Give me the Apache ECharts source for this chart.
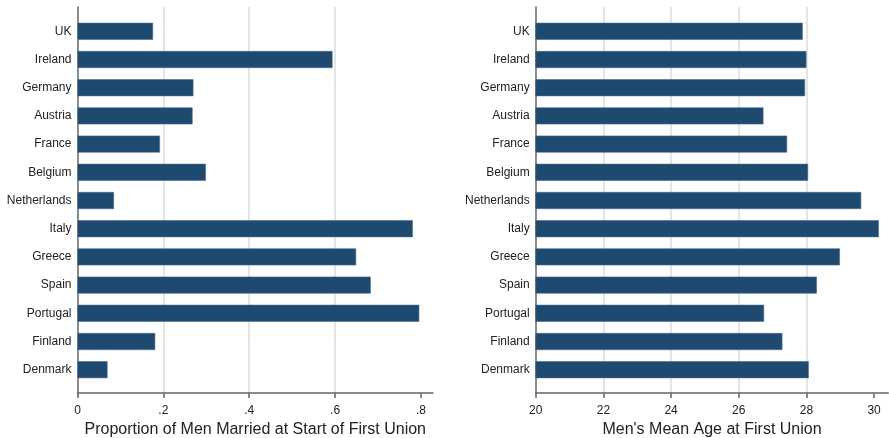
<!DOCTYPE html>
<html>
<head>
<meta charset="utf-8">
<script src="https://cdn.jsdelivr.net/npm/echarts@6/dist/echarts.min.js"></script>
<style>html,body{margin:0;padding:0;background:#fff}#c{width:889px;height:438px}</style>
</head>
<body>
<div id="c"></div>
<script>
const countries = ['UK','Ireland','Germany','Austria','France','Belgium','Netherlands','Italy','Greece','Spain','Portugal','Finland','Denmark'];
const propMarried = [0.176,0.594,0.270,0.268,0.192,0.299,0.085,0.781,0.649,0.683,0.796,0.181,0.070];
const meanAge = [27.89,28.00,27.96,26.73,27.43,28.05,29.62,30.14,28.99,28.31,26.75,27.29,28.07];
const leftTicks = [0,0.2,0.4,0.6,0.8];
const rightTicks = [20,22,24,26,28,30];
const leftTitle = 'Proportion of Men Married at Start of First Union';
const rightTitle = "Men's Mean Age at First Union";

const FONT = 'Liberation Sans';
const BAR = '#1f4a6f';
const GRIDC = '#dfe4e5';
const AXC = '#666';
const TXT = '#222';

const panels = [
  {left:77.5, width:355.5, min:0, max:0.828, interval:0.2, ticks:leftTicks, data:propMarried, title:leftTitle,
   fmt:v=>v===0?'0':String(Math.round(v*10)/10).replace(/^0/,'')},
  {left:535.7, width:352.6, min:20, max:30.42, interval:2, ticks:rightTicks, data:meanAge, title:rightTitle,
   fmt:v=>String(v)}
];

const grid=[], xAxis=[], yAxis=[], series=[];
panels.forEach((p,i)=>{
  grid.push({left:p.left, width:p.width, top:7, bottom:45, containLabel:false, outerBoundsMode:'none'});
  grid.push({left:p.left, width:p.width, top:17.2, bottom:54.2, containLabel:false, outerBoundsMode:'none'});
  const ga = i*2, gb = i*2+1;
  xAxis.push({gridIndex:ga, type:'value', min:p.min, max:p.max, interval:p.interval,
    axisLine:{show:true, lineStyle:{color:AXC, width:1.5}},
    axisTick:{show:true, length:5, lineStyle:{color:AXC, width:1.5}, customValues:p.ticks},
    axisLabel:{color:TXT, fontFamily:FONT, fontSize:12, margin:11.5, customValues:p.ticks, formatter:p.fmt},
    splitLine:{show:true, showMinLine:false, showMaxLine:false, lineStyle:{color:GRIDC, width:1.8}},
    name:p.title, nameLocation:'middle', nameGap:27,
    nameTextStyle:{color:TXT, fontFamily:FONT, fontSize:16}});
  yAxis.push({gridIndex:ga, type:'value', min:0, max:1,
    axisLine:{show:true, onZero:false, lineStyle:{color:AXC, width:1.5}},
    axisTick:{show:false}, axisLabel:{show:false}, splitLine:{show:false}});
  xAxis.push({gridIndex:gb, type:'value', min:p.min, max:p.max, show:false, splitLine:{show:false}});
  yAxis.push({gridIndex:gb, type:'category', data:countries, inverse:true,
    axisLine:{show:false}, axisTick:{show:false},
    axisLabel:{color:TXT, fontFamily:FONT, fontSize:12, margin:6}});
  series.push({type:'bar', xAxisIndex:gb, yAxisIndex:gb, data:p.data, barWidth:17,
    itemStyle:{color:BAR, borderColor:'#4a6d8f', borderWidth:0.6}, silent:true});
});

const chart = echarts.init(document.getElementById('c'), null, {renderer:'canvas'});
chart.setOption({animation:false, backgroundColor:'#fff', grid, xAxis, yAxis, series});
</script>
</body>
</html>
